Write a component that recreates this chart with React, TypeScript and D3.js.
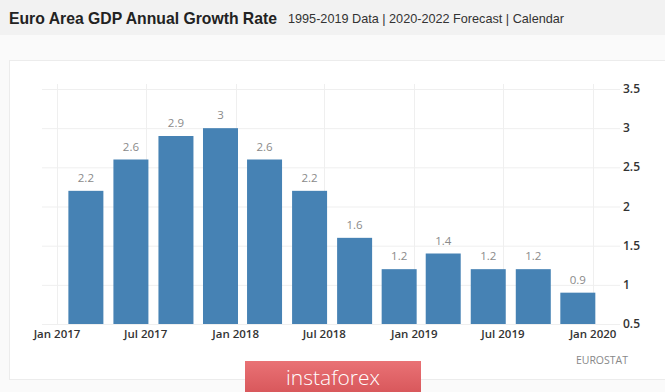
import { useEffect, useRef } from "react";
import * as d3 from "d3";

// quarter ends (first day of last month of each quarter)
const quarters = [
  "2017-03-01", "2017-06-01", "2017-09-01", "2017-12-01",
  "2018-03-01", "2018-06-01", "2018-09-01", "2018-12-01",
  "2019-03-01", "2019-06-01", "2019-09-01", "2019-12-01",
];
const growth = [2.2, 2.6, 2.9, 3.0, 2.6, 2.2, 1.6, 1.2, 1.4, 1.2, 1.2, 0.9];
const yTicks = [0.5, 1, 1.5, 2, 2.5, 3, 3.5];
const xTicks = ["2017-01-01", "2017-07-01", "2018-01-01", "2018-07-01", "2019-01-01", "2019-07-01", "2020-01-01"];

const parse = d3.timeParse("%Y-%m-%d");

export default function App() {
  const ref = useRef<SVGSVGElement>(null);

  useEffect(() => {
    const width = 665;
    const height = 392;
    const svg = d3.select(ref.current);
    svg.selectAll("*").remove();
    svg.attr("width", width).attr("height", height);

    // page background + header band
    svg.append("rect").attr("width", width).attr("height", height).attr("fill", "#fafafa");
    svg.append("rect").attr("width", width).attr("height", 35).attr("fill", "#f2f2f2");
    svg.append("text")
      .attr("x", 9).attr("y", 24)
      .attr("textLength", 268).attr("lengthAdjust", "spacingAndGlyphs")
      .style("font-family", "Liberation Sans, Arial, sans-serif")
      .style("font-size", "17px").style("font-weight", "bold")
      .attr("fill", "#222")
      .text("Euro Area GDP Annual Growth Rate");
    svg.append("text")
      .attr("x", 288).attr("y", 23)
      .attr("textLength", 276).attr("lengthAdjust", "spacingAndGlyphs")
      .style("font-family", "Liberation Sans, Arial, sans-serif")
      .style("font-size", "13px")
      .attr("fill", "#333")
      .text("1995-2019 Data | 2020-2022 Forecast | Calendar");

    // chart panel
    svg.append("rect")
      .attr("x", 9.5).attr("y", 60.5).attr("width", 680).attr("height", 319)
      .attr("fill", "#fff").attr("stroke", "#ececec");

    const x = d3.scaleTime()
      .domain([parse("2017-01-01")!, parse("2020-01-01")!])
      .range([57, 593]);
    const y = d3.scaleLinear().domain([0.5, 3.5]).range([324, 89]);

    // horizontal grid
    svg.append("g").selectAll("line")
      .data(yTicks)
      .join("line")
      .attr("x1", 42).attr("x2", 620)
      .attr("y1", d => y(d) + 0.5).attr("y2", d => y(d) + 0.5)
      .attr("stroke", "#efefef");

    // vertical grid
    svg.append("g").selectAll("line")
      .data(xTicks)
      .join("line")
      .attr("x1", d => Math.round(x(parse(d)!)) + 0.5).attr("x2", d => Math.round(x(parse(d)!)) + 0.5)
      .attr("y1", 84).attr("y2", y(0.5))
      .attr("stroke", "#efefef");

    const barW = 35;
    svg.append("g").selectAll("rect")
      .data(growth)
      .join("rect")
      .attr("x", (d, i) => x(parse(quarters[i])!) - barW / 2)
      .attr("y", d => y(d))
      .attr("width", barW)
      .attr("height", d => y(0.5) - y(d))
      .attr("fill", "#4682b4");

    svg.append("g").selectAll("text")
      .data(growth)
      .join("text")
      .attr("x", (d, i) => x(parse(quarters[i])!))
      .attr("y", d => y(d) - 9)
      .attr("text-anchor", "middle")
      .style("font-family", "Open Sans, sans-serif")
      .style("font-size", "11.5px")
      .attr("fill", "#8a8a8a")
      .text(d => String(d));

    // y axis labels
    svg.append("g").selectAll("text")
      .data(yTicks)
      .join("text")
      .attr("x", 623)
      .attr("y", d => y(d) + 4)
      .style("font-family", "Open Sans, sans-serif")
      .style("font-size", "12px")
      .style("font-weight", "600")
      .attr("fill", "#333")
      .text(d => String(d));

    // x axis labels
    const fmt = d3.timeFormat("%b %Y");
    svg.append("g").selectAll("text")
      .data(xTicks)
      .join("text")
      .attr("x", d => x(parse(d)!))
      .attr("y", 338)
      .attr("text-anchor", "middle")
      .style("font-family", "Open Sans, sans-serif")
      .style("font-size", "11.5px")
      .style("font-weight", "600")
      .attr("fill", "#333")
      .text(d => fmt(parse(d)!));

    svg.append("text")
      .attr("x", 628).attr("y", 364)
      .attr("text-anchor", "end")
      .style("font-family", "Open Sans, sans-serif")
      .style("font-size", "10.5px")
      .attr("fill", "#888")
      .text("EUROSTAT");

    // watermark badge
    const grad = svg.append("defs").append("linearGradient")
      .attr("id", "badge").attr("x1", 0).attr("x2", 0).attr("y1", 0).attr("y2", 1);
    grad.append("stop").attr("offset", "0%").attr("stop-color", "#e97275");
    grad.append("stop").attr("offset", "100%").attr("stop-color", "#d9585c");
    svg.append("rect")
      .attr("x", 245).attr("y", 361).attr("width", 176).attr("height", 31)
      .attr("fill", "url(#badge)");
    svg.append("text")
      .attr("x", 333).attr("y", 385)
      .attr("text-anchor", "middle")
      .style("font-family", "Open Sans, sans-serif")
      .style("font-size", "21px")
      .style("font-weight", "300")
      .attr("fill", "#fff")
      .text("instaforex");
  }, []);

  return (
    <div style={{ position: "absolute", left: 0, top: 0 }}>
      <svg ref={ref}></svg>
    </div>
  );
}
